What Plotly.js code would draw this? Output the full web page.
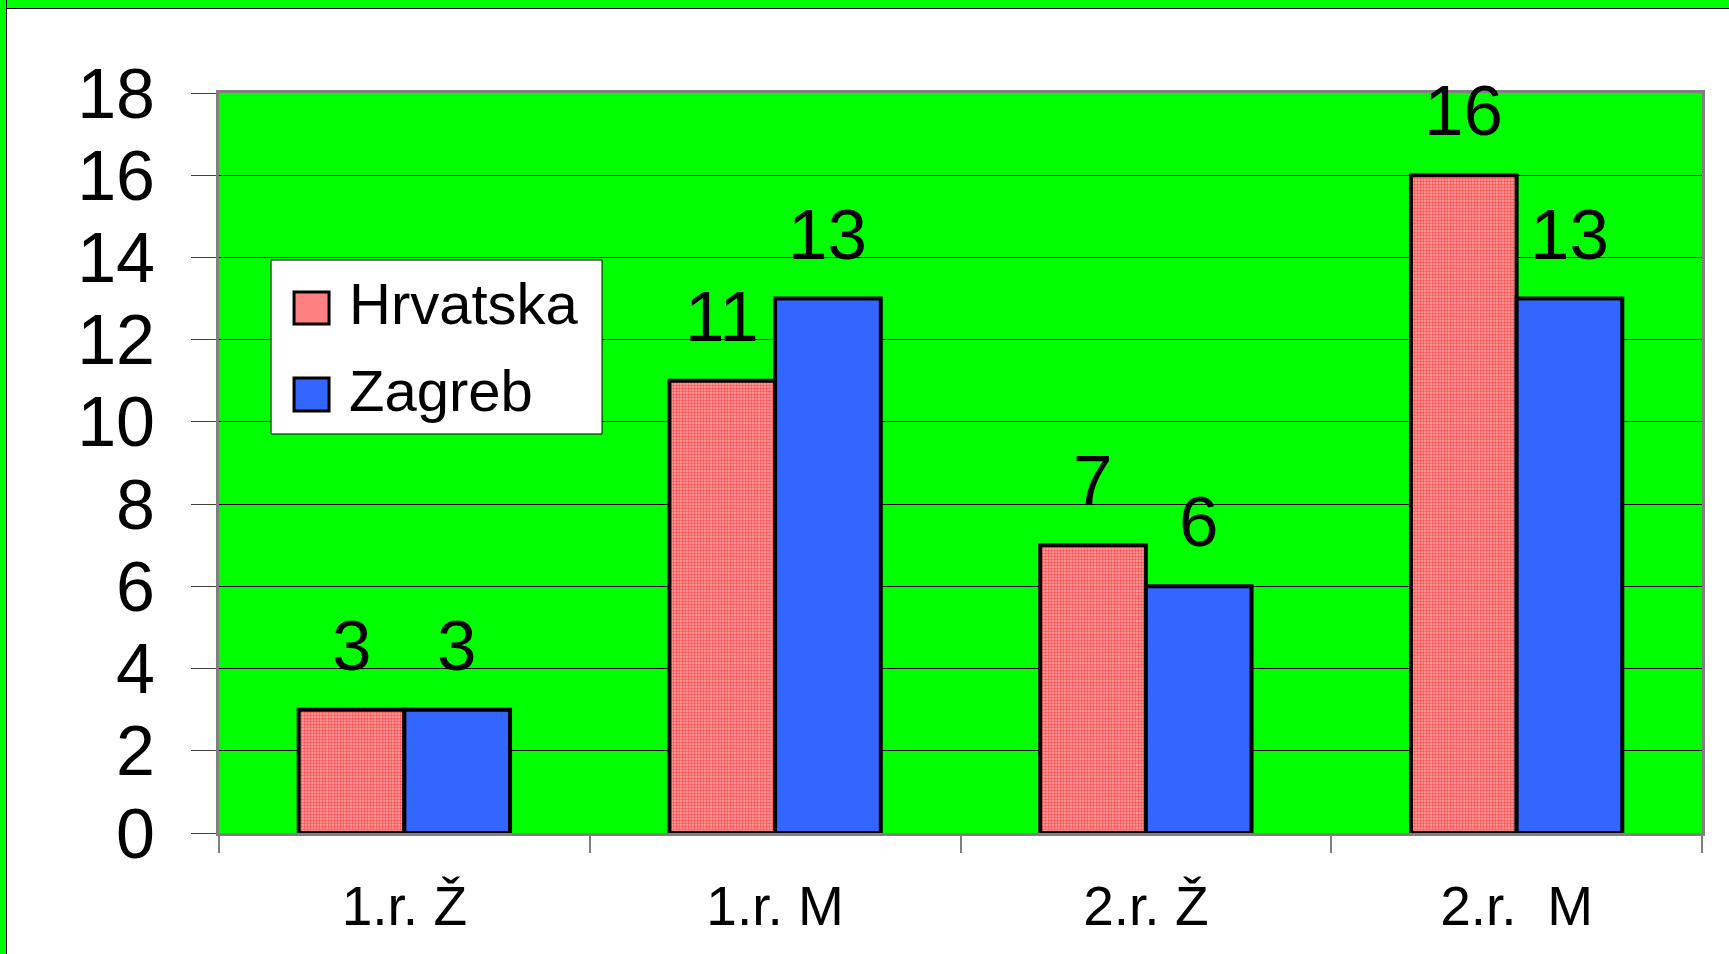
<!DOCTYPE html>
<html>
<head>
<meta charset="utf-8">
<script src="https://cdn.plot.ly/plotly-3.0.1.min.js"></script>
<style>
  html, body { margin: 0; padding: 0; background: #ffffff; width: 1729px; height: 954px; overflow: hidden; }
  #topbar { position: absolute; left: 0; top: 0; width: 1729px; height: 8px; background: #00FF00; border-bottom: 1px solid #000; }
  #leftbar { position: absolute; left: 0; top: 0; width: 6px; height: 954px; background: #00FF00; border-right: 1px solid #000; }
  #chart { position: absolute; left: 7px; top: 9px; width: 1722px; height: 945px; }
</style>
</head>
<body>
<div id="chart"></div>
<div id="topbar"></div>
<div id="leftbar"></div>
<script>
// ---- data ----
const categories = ['1.r. Ž', '1.r. M', '2.r. Ž', '2.r.  M'];
const seriesNames = ['Hrvatska', 'Zagreb'];
const hrvatska = [3, 11, 7, 16];
const zagreb = [3, 13, 6, 13];
const yTickValues = [0, 2, 4, 6, 8, 10, 12, 14, 16, 18];

// ---- styles ----
const FONT = 'Arial, "Liberation Sans", sans-serif';
const colorH = '#FF8080';
const colorZ = '#3366FF';
const BARGAP = 0.43;
const barW = (1 - BARGAP) / 2;

const traces = [
  {
    type: 'bar', name: seriesNames[0], x: categories, y: hrvatska,
    marker: {
      color: colorH,
      line: { color: '#000000', width: 4 },
      pattern: { shape: '.', bgcolor: '#FFA8A8', fgcolor: '#FF5050', size: 3, solidity: 0.5 }
    },
    hoverinfo: 'x+y+name', showlegend: false
  },
  {
    type: 'bar', name: seriesNames[1], x: categories, y: zagreb,
    marker: { color: colorZ, line: { color: '#000000', width: 4 } },
    hoverinfo: 'x+y+name', showlegend: false
  }
];

// value labels above bars, positioned on the library's own axes
const annotations = [];
[hrvatska, zagreb].forEach((vals, s) => {
  vals.forEach((v, i) => {
    annotations.push({
      x: i + (s === 0 ? -barW / 2 : barW / 2), y: v, xref: 'x', yref: 'y',
      text: String(v), showarrow: false, yanchor: 'bottom', xanchor: 'center',
      yshift: 23, font: { family: FONT, size: 71, color: '#000' }
    });
  });
});

// legend (custom, for large swatches)
const legX0 = 0.0351, legX1 = 0.2583, legY0 = 0.5392, legY1 = 0.7743;
const swX0 = 0.0506, swX1 = 0.0742;
const rows = [
  { name: seriesNames[0], color: colorH, y0: 0.6878, y1: 0.7311, ty: 0.7149 },
  { name: seriesNames[1], color: colorZ, y0: 0.5703, y1: 0.6149, ty: 0.5973 }
];
const shapes = [
  { type: 'rect', xref: 'paper', yref: 'paper', x0: legX0, x1: legX1, y0: legY0, y1: legY1,
    fillcolor: '#FFFFFF', line: { color: '#000000', width: 1 }, layer: 'above' }
];
rows.forEach(r => {
  shapes.push({ type: 'rect', xref: 'paper', yref: 'paper', x0: swX0, x1: swX1, y0: r.y0, y1: r.y1,
    fillcolor: r.color, line: { color: '#000000', width: 3 }, layer: 'above' });
  annotations.push({ xref: 'paper', yref: 'paper', x: 0.0865, y: r.ty, xanchor: 'left', yanchor: 'middle',
    text: r.name, showarrow: false, font: { family: FONT, size: 58, color: '#000' } });
});

const layout = {
  width: 1722, height: 945,
  margin: { l: 212, r: 27, t: 84, b: 121, pad: 0 },
  paper_bgcolor: '#FFFFFF',
  plot_bgcolor: '#00FF00',
  barmode: 'group', bargap: BARGAP, bargroupgap: 0,
  showlegend: false,
  font: { family: FONT, color: '#000' },
  xaxis: {
    type: 'category', tickson: 'boundaries', ticks: 'outside', ticklen: 17, tickwidth: 2,
    tickcolor: '#808080', showgrid: false, showline: true, linecolor: '#808080', linewidth: 3, mirror: true,
    tickfont: { family: FONT, size: 55, color: '#000' }, ticklabelstandoff: 23, zeroline: false
  },
  yaxis: {
    range: [0, 18], tickvals: yTickValues, ticktext: yTickValues.map(String),
    ticks: 'outside', ticklen: 25, tickwidth: 1, tickcolor: '#404040',
    showgrid: true, gridcolor: '#000000', gridwidth: 1,
    showline: true, linecolor: '#808080', linewidth: 3, mirror: true, zeroline: false,
    tickfont: { family: FONT, size: 70, color: '#000' }, ticklabelstandoff: 22
  },
  annotations: annotations,
  shapes: shapes
};

traces.forEach(t => { t.cliponaxis = false; });
Plotly.newPlot('chart', traces, layout, { displayModeBar: false, staticPlot: true });
</script>
</body>
</html>
